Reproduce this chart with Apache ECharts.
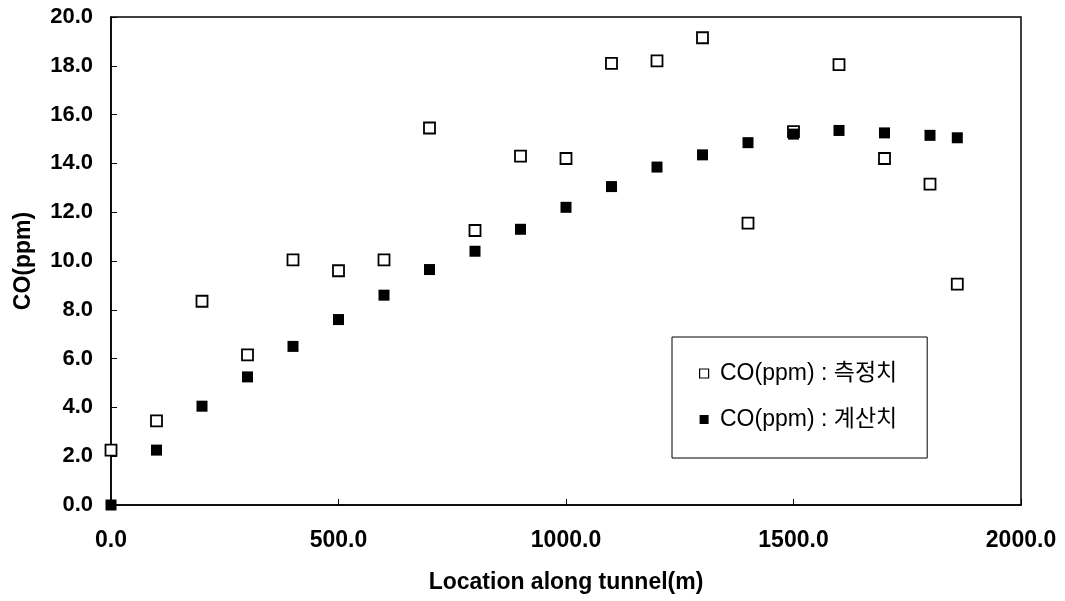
<!DOCTYPE html>
<html>
<head>
<meta charset="utf-8">
<script src="https://cdn.jsdelivr.net/npm/echarts@6/dist/echarts.min.js"></script>
<style>
  html, body { margin: 0; padding: 0; background: #fff; }
  #chart { width: 1065px; height: 601px; }
</style>
</head>
<body>
<div id="chart"></div>
<script>
// location along tunnel (m)
var locations = [0, 100, 200, 300, 400, 500, 600, 700, 800, 900, 1000, 1100, 1200, 1300, 1400, 1500, 1600, 1700, 1800, 1860]
// CO(ppm) measured
var measured = [2.25, 3.45, 8.35, 6.15, 10.05, 9.6, 10.05, 15.45, 11.25, 14.3, 14.2, 18.1, 18.2, 19.15, 11.55, 15.3, 18.05, 14.2, 13.15, 9.05]
// CO(ppm) calculated
var calculated = [0.0, 2.25, 4.05, 5.25, 6.5, 7.6, 8.6, 9.65, 10.4, 11.3, 12.2, 13.05, 13.85, 14.35, 14.85, 15.2, 15.35, 15.25, 15.15, 15.05]

var names = ['CO(ppm) : 측정치', 'CO(ppm) : 계산치']

function pairs(xs, ys) {
  return xs.map(function (x, i) { return [x, ys[i]] })
}

var font = 'Liberation Sans, Arial, sans-serif'

var chart = echarts.init(document.getElementById('chart'))
chart.setOption({
  animation: false,
  grid: {
    left: 111, top: 17, right: 44, bottom: 96,
    show: true, borderColor: '#000', borderWidth: 1.5, backgroundColor: '#fff'
  },
  legend: {
    orient: 'vertical',
    left: 672, top: 337,
    padding: [25, 30, 27, 27],
    itemGap: 23,
    itemWidth: 9, itemHeight: 9,
    borderColor: '#000', borderWidth: 1,
    backgroundColor: '#fff',
    formatter: function (n) { return ' ' + n },
    textStyle: { fontFamily: 'Liberation Sans, Noto Sans CJK KR, sans-serif', fontSize: 23, color: '#000' },
    data: [
      { name: names[0], icon: 'rect', itemStyle: { color: '#fff', borderColor: '#000', borderWidth: 1.2 } },
      { name: names[1], icon: 'rect', itemStyle: { color: '#000' } }
    ]
  },
  xAxis: {
    type: 'value', min: 0, max: 2000, interval: 500,
    name: 'Location along tunnel(m)', nameLocation: 'middle', nameGap: 66,
    nameTextStyle: { fontFamily: font, fontWeight: 'bold', fontSize: 23, color: '#000' },
    axisLine: { lineStyle: { color: '#000', width: 1.5 } },
    axisTick: { show: true, inside: true, length: 6, lineStyle: { color: '#000' } },
    splitLine: { show: false },
    axisLabel: {
      margin: 24, color: '#000', fontFamily: font, fontWeight: 'bold', fontSize: 23,
      formatter: function (v) { return v.toFixed(1) }
    }
  },
  yAxis: {
    type: 'value', min: 0, max: 20, interval: 2,
    name: 'CO(ppm)', nameLocation: 'middle', nameGap: 76,
    nameTextStyle: { fontFamily: font, fontWeight: 'bold', fontSize: 23, color: '#000' },
    axisLine: { show: true, lineStyle: { color: '#000', width: 1.5 } },
    axisTick: { show: true, inside: true, length: 6, lineStyle: { color: '#000' } },
    splitLine: { show: false },
    axisLabel: {
      margin: 18, color: '#000', fontFamily: font, fontWeight: 'bold', fontSize: 22,
      formatter: function (v) { return v.toFixed(1) }
    }
  },
  series: [
    {
      name: names[0], type: 'scatter', symbol: 'rect', symbolSize: 11,
      itemStyle: { color: '#fff', borderColor: '#000', borderWidth: 1.8, opacity: 1 },
      data: pairs(locations, measured), z: 3
    },
    {
      name: names[1], type: 'scatter', symbol: 'rect', symbolSize: 11,
      itemStyle: { color: '#000', opacity: 1 },
      data: pairs(locations, calculated), z: 4
    }
  ]
})
</script>
</body>
</html>
